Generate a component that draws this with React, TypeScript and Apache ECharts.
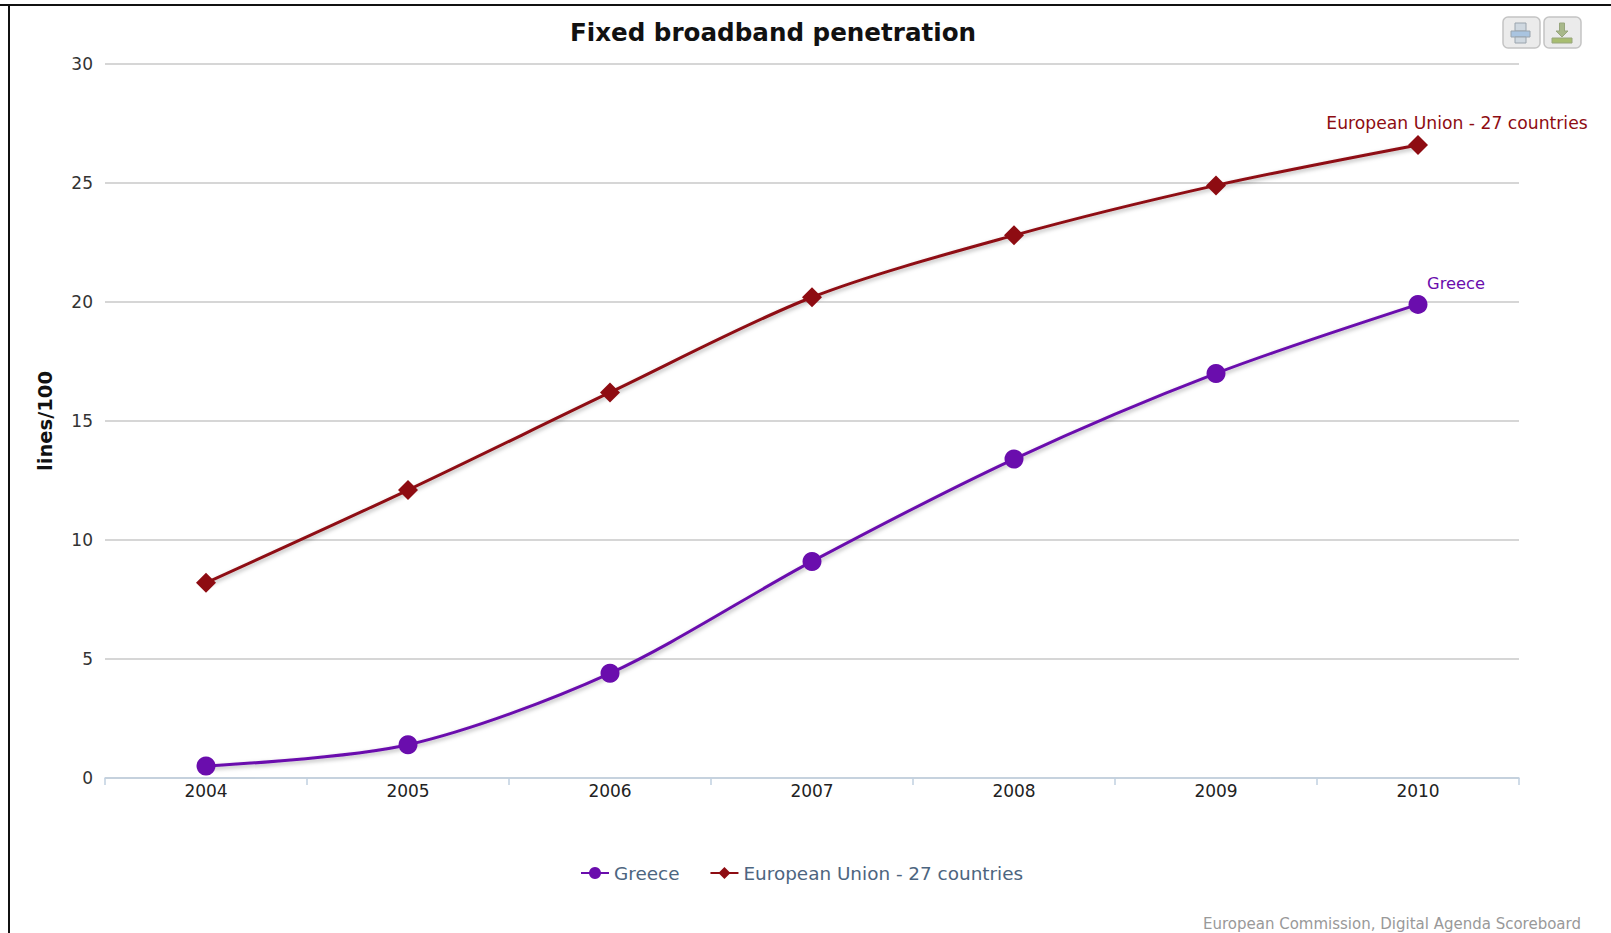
import React, { useEffect, useRef } from "react";
import * as echarts from "echarts";

const years = ["2004", "2005", "2006", "2007", "2008", "2009", "2010"];
const greece = [0.5, 1.4, 4.4, 9.1, 13.4, 17, 19.9];
const eu = [8.2, 12.1, 16.2, 20.2, 22.8, 24.9, 26.6];
const greeceName = "Greece";
const euName = "European Union - 27 countries";
const FONT = "'DejaVu Sans', Verdana, sans-serif";
const PURPLE = "#6a0dad";
const RED = "#8e0c12";

function withEndLabel(values: number[], name: string, color: string, fontSize: number, offset: number[]) {
  return values.map((v, i) =>
    i === values.length - 1
      ? {
          value: v,
          label: {
            show: true,
            position: "top",
            formatter: name,
            color,
            fontFamily: FONT,
            fontSize,
            offset,
          },
        }
      : v
  );
}

function button(x: number, children: any[]) {
  return {
    type: "group",
    x,
    y: 17,
    children: [
      {
        type: "rect",
        shape: { x: 0, y: 0, width: 37, height: 31, r: 5 },
        style: { fill: "#ebebeb", stroke: "#c4c4c4", lineWidth: 1.5 },
      },
      ...children,
    ],
  };
}

export default function App() {
  const ref = useRef<HTMLDivElement>(null);
  useEffect(() => {
    const chart = echarts.init(ref.current!, undefined, { renderer: "svg" });
    chart.setOption({
      animation: false,
      backgroundColor: "#ffffff",
      title: {
        text: "Fixed broadband penetration",
        left: 768,
        top: 14.5,
        textAlign: "center",
        textStyle: { fontFamily: FONT, fontSize: 24.6, fontWeight: "bold", color: "#111111" },
      },
      legend: {
        left: 575,
        top: 859,
        itemWidth: 28,
        itemHeight: 15,
        itemGap: 30,
        textStyle: { fontFamily: FONT, fontSize: 18.4, color: "#4d6580" },
        data: [greeceName, euName],
      },
      grid: { left: 105, right: 92, top: 64, bottom: 155, containLabel: false },
      xAxis: {
        type: "category",
        data: years,
        boundaryGap: true,
        axisLine: { lineStyle: { color: "#c0d0e0", width: 1.5 } },
        axisTick: { show: true, length: 7, alignWithLabel: false, lineStyle: { color: "#c0d0e0", width: 1.5 } },
        axisLabel: { fontFamily: FONT, fontSize: 17, color: "#222222", margin: 4 },
        splitLine: { show: false },
      },
      yAxis: {
        type: "value",
        min: 0,
        max: 30,
        interval: 5,
        name: "lines/100",
        nameLocation: "middle",
        nameGap: 50,
        nameTextStyle: { fontFamily: FONT, fontSize: 19.5, fontWeight: "bold", color: "#111111" },
        axisLine: { show: false },
        axisTick: { show: false },
        axisLabel: { fontFamily: FONT, fontSize: 17, color: "#333333", margin: 12, verticalAlign: "middle", padding: [0, 0, 3, 0] },
        splitLine: { lineStyle: { color: "#c8c8c8", width: 1.5 } },
      },
      series: [
        {
          name: greeceName,
          type: "line",
          data: withEndLabel(greece, greeceName, PURPLE, 16.3, [38, 2]),
          smooth: 0.3,
          symbol: "circle",
          symbolSize: 19,
          lineStyle: { color: PURPLE, width: 3, shadowColor: "rgba(0,0,0,0.3)", shadowBlur: 4, shadowOffsetX: 1, shadowOffsetY: 2 },
          itemStyle: { color: PURPLE },
        },
        {
          name: euName,
          type: "line",
          data: withEndLabel(eu, euName, RED, 17.2, [39, 2]),
          smooth: 0.3,
          symbol: "diamond",
          symbolSize: 20,
          lineStyle: { color: RED, width: 3, shadowColor: "rgba(0,0,0,0.3)", shadowBlur: 4, shadowOffsetX: 1, shadowOffsetY: 2 },
          itemStyle: { color: RED },
        },
      ],
      graphic: [
        { type: "line", shape: { x1: 0, y1: 5, x2: 1611, y2: 5 }, style: { stroke: "#111111", lineWidth: 2 } },
        { type: "line", shape: { x1: 9, y1: 5, x2: 9, y2: 933 }, style: { stroke: "#111111", lineWidth: 2 } },
        button(1503, [
          { type: "rect", shape: { x: 12, y: 6, width: 11, height: 8 }, style: { fill: "#cfd8e0", stroke: "#9aa4ad", lineWidth: 1 } },
          { type: "rect", shape: { x: 8, y: 14, width: 19, height: 6 }, style: { fill: "#a9c4e0", stroke: "#9aa4ad", lineWidth: 1 } },
          { type: "rect", shape: { x: 12, y: 20, width: 11, height: 6 }, style: { fill: "#cfd8e0", stroke: "#9aa4ad", lineWidth: 1 } },
        ]),
        button(1544, [
          { type: "polygon", shape: { points: [[15.5, 6], [20.5, 6], [20.5, 14], [24, 14], [18, 20], [12, 14], [15.5, 14]] }, style: { fill: "#a8b88a", stroke: "#98a67e", lineWidth: 1 } },
          { type: "rect", shape: { x: 8, y: 21, width: 20, height: 5 }, style: { fill: "#a8bd70", stroke: "#98a67e", lineWidth: 1 } },
        ]),
        {
          type: "text",
          x: 1581,
          y: 924,
          style: { text: "European Commission, Digital Agenda Scoreboard", fontFamily: FONT, fontSize: 15, fill: "#999999", align: "right", verticalAlign: "middle" },
        },
      ],
    });
    return () => chart.dispose();
  }, []);
  return <div ref={ref} style={{ position: "fixed", left: 0, top: 0, width: 1611, height: 933 }} />;
}
